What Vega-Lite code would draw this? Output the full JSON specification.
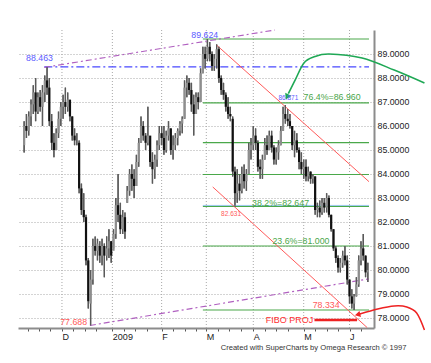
{
"$schema": "https://vega.github.io/schema/vega-lite/v6.json",
"width": 356, "height": 298,
"autosize": "none",
"padding": {"left": 18, "top": 30, "right": 57, "bottom": 35},
"background": "white",
"config": {"view": {"stroke": null}, "font": "Liberation Sans"},
"resolve": {"axis": {"x": "independent", "y": "independent"}},
"datasets": {
"ohlc": [
{"i":0,"o":85.2,"h":86.2,"l":84.9,"c":86.0},{"i":1,"o":86.0,"h":86.5,"l":85.5,"c":85.8},{"i":2,"o":85.8,"h":86.6,"l":85.6,"c":86.4},{"i":3,"o":86.4,"h":87.1,"l":86.0,"c":86.9},{"i":4,"o":86.9,"h":87.7,"l":86.5,"c":87.4},{"i":5,"o":87.4,"h":88.0,"l":86.2,"c":86.6},{"i":6,"o":86.6,"h":87.4,"l":86.5,"c":87.2},{"i":7,"o":87.2,"h":87.5,"l":86.6,"c":86.8},{"i":8,"o":86.8,"h":87.7,"l":86.0,"c":87.4},{"i":9,"o":87.4,"h":88.1,"l":87.0,"c":87.9},
{"i":10,"o":87.9,"h":88.463,"l":87.3,"c":87.6},{"i":11,"o":87.6,"h":88.0,"l":86.0,"c":86.2},{"i":12,"o":86.2,"h":86.5,"l":85.0,"c":85.3},{"i":13,"o":85.3,"h":85.7,"l":84.7,"c":85.0},{"i":14,"o":85.0,"h":85.9,"l":85.0,"c":85.7},{"i":15,"o":85.7,"h":86.6,"l":85.5,"c":86.3},{"i":16,"o":86.3,"h":87.0,"l":86.0,"c":86.8},{"i":17,"o":86.8,"h":87.3,"l":86.3,"c":87.0},{"i":18,"o":87.0,"h":87.6,"l":86.5,"c":86.8},{"i":19,"o":86.8,"h":87.4,"l":86.6,"c":87.1},
{"i":20,"o":87.1,"h":87.0,"l":86.2,"c":86.4},{"i":21,"o":86.4,"h":86.4,"l":85.4,"c":85.6},{"i":22,"o":85.6,"h":85.9,"l":85.2,"c":85.4},{"i":23,"o":85.4,"h":85.7,"l":85.2,"c":85.4},{"i":24,"o":85.3,"h":85.4,"l":83.2,"c":83.4},{"i":25,"o":83.4,"h":83.6,"l":82.3,"c":82.5},{"i":26,"o":82.5,"h":83.2,"l":82.0,"c":82.2},{"i":27,"o":82.2,"h":82.3,"l":80.2,"c":80.4},{"i":28,"o":80.4,"h":80.5,"l":78.4,"c":78.7},{"i":29,"o":78.6,"h":80.0,"l":77.688,"c":79.6},
{"i":30,"o":79.6,"h":81.3,"l":79.4,"c":81.0},{"i":31,"o":81.0,"h":81.4,"l":80.6,"c":80.8},{"i":32,"o":80.8,"h":81.3,"l":80.4,"c":81.1},{"i":33,"o":81.0,"h":81.2,"l":80.3,"c":80.6},{"i":34,"o":80.6,"h":81.3,"l":80.2,"c":81.0},{"i":35,"o":81.0,"h":81.1,"l":79.7,"c":80.6},{"i":36,"o":80.6,"h":81.4,"l":80.4,"c":80.9},{"i":37,"o":80.9,"h":81.7,"l":80.5,"c":81.2},{"i":38,"o":81.2,"h":81.2,"l":80.3,"c":80.6},{"i":39,"o":80.8,"h":81.7,"l":80.9,"c":81.5},
{"i":40,"o":81.5,"h":83.0,"l":81.3,"c":82.7},{"i":41,"o":82.7,"h":84.0,"l":82.0,"c":82.3},{"i":42,"o":82.3,"h":82.8,"l":81.5,"c":81.7},{"i":43,"o":81.7,"h":82.5,"l":81.5,"c":82.2},{"i":44,"o":82.2,"h":82.4,"l":81.3,"c":81.6},{"i":45,"o":82.8,"h":83.5,"l":82.8,"c":83.3},{"i":46,"o":83.3,"h":84.2,"l":83.1,"c":84.0},{"i":47,"o":84.0,"h":84.4,"l":83.3,"c":83.8},{"i":48,"o":83.8,"h":84.2,"l":83.0,"c":83.5},{"i":49,"o":83.5,"h":84.8,"l":83.5,"c":84.5},
{"i":50,"o":84.5,"h":85.5,"l":84.3,"c":85.3},{"i":51,"o":85.3,"h":86.4,"l":85.3,"c":86.0},{"i":52,"o":86.0,"h":86.2,"l":85.4,"c":85.6},{"i":53,"o":85.6,"h":85.7,"l":85.0,"c":85.3},{"i":54,"o":85.3,"h":86.8,"l":85.2,"c":85.6},{"i":55,"o":85.6,"h":85.4,"l":84.3,"c":84.5},{"i":56,"o":84.5,"h":84.9,"l":83.6,"c":84.2},{"i":57,"o":84.2,"h":84.8,"l":83.8,"c":84.6},{"i":58,"o":84.6,"h":85.4,"l":84.3,"c":85.2},{"i":59,"o":85.2,"h":86.0,"l":85.0,"c":85.7},
{"i":60,"o":85.7,"h":86.0,"l":85.2,"c":85.5},{"i":61,"o":85.5,"h":86.0,"l":84.8,"c":85.0},{"i":62,"o":85.0,"h":85.8,"l":84.9,"c":85.6},{"i":63,"o":85.6,"h":86.2,"l":85.4,"c":85.9},{"i":64,"o":85.9,"h":85.9,"l":84.8,"c":85.0},{"i":65,"o":85.0,"h":85.6,"l":84.6,"c":85.2},{"i":66,"o":85.2,"h":85.7,"l":85.0,"c":85.5},{"i":67,"o":85.5,"h":85.9,"l":85.2,"c":85.8},{"i":68,"o":85.8,"h":86.2,"l":85.6,"c":86.1},{"i":69,"o":86.1,"h":86.4,"l":85.7,"c":86.3},
{"i":70,"o":86.3,"h":87.9,"l":86.3,"c":87.6},{"i":71,"o":87.6,"h":88.1,"l":87.2,"c":87.8},{"i":72,"o":87.8,"h":88.0,"l":87.3,"c":87.5},{"i":73,"o":87.5,"h":87.8,"l":86.6,"c":86.9},{"i":74,"o":86.9,"h":87.3,"l":85.6,"c":86.5},{"i":75,"o":86.5,"h":87.4,"l":86.6,"c":87.2},{"i":76,"o":87.2,"h":87.4,"l":86.7,"c":87.0},{"i":77,"o":87.0,"h":88.4,"l":87.0,"c":88.2},{"i":78,"o":88.2,"h":89.3,"l":88.2,"c":89.0},{"i":79,"o":89.0,"h":89.3,"l":88.4,"c":88.8},
{"i":80,"o":88.8,"h":89.624,"l":88.7,"c":89.3},{"i":81,"o":89.3,"h":89.5,"l":88.7,"c":89.0},{"i":82,"o":89.0,"h":89.1,"l":88.3,"c":88.5},{"i":83,"o":88.5,"h":89.0,"l":88.3,"c":88.8},{"i":84,"o":88.8,"h":89.4,"l":88.4,"c":89.2},{"i":85,"o":89.2,"h":89.3,"l":87.8,"c":88.0},{"i":86,"o":88.0,"h":88.1,"l":87.3,"c":87.5},{"i":87,"o":87.5,"h":87.8,"l":87.1,"c":87.3},{"i":88,"o":87.3,"h":87.4,"l":86.6,"c":86.8},{"i":89,"o":86.8,"h":87.2,"l":86.3,"c":86.5},
{"i":90,"o":86.5,"h":86.8,"l":86.2,"c":86.4},{"i":91,"o":86.3,"h":86.4,"l":83.9,"c":84.1},{"i":92,"o":84.1,"h":84.3,"l":82.631,"c":83.2},{"i":93,"o":83.2,"h":84.2,"l":82.8,"c":83.6},{"i":94,"o":83.6,"h":84.0,"l":82.9,"c":83.3},{"i":95,"o":83.3,"h":84.3,"l":83.2,"c":84.0},{"i":96,"o":84.0,"h":84.4,"l":83.4,"c":83.7},{"i":97,"o":83.7,"h":84.2,"l":83.3,"c":84.0},{"i":98,"o":84.0,"h":85.3,"l":84.0,"c":85.0},{"i":99,"o":85.0,"h":85.5,"l":84.6,"c":85.2},
{"i":100,"o":85.2,"h":86.0,"l":85.0,"c":85.6},{"i":101,"o":85.6,"h":85.9,"l":85.0,"c":85.3},{"i":102,"o":85.3,"h":85.4,"l":84.1,"c":84.3},{"i":103,"o":84.3,"h":84.6,"l":83.8,"c":84.2},{"i":104,"o":84.2,"h":84.8,"l":83.8,"c":84.6},{"i":105,"o":84.6,"h":85.5,"l":84.6,"c":85.2},{"i":106,"o":85.2,"h":85.6,"l":84.8,"c":85.0},{"i":107,"o":85.0,"h":85.8,"l":85.0,"c":85.6},{"i":108,"o":85.6,"h":85.8,"l":84.9,"c":85.1},{"i":109,"o":85.1,"h":85.2,"l":84.4,"c":84.6},
{"i":110,"o":84.6,"h":85.1,"l":84.4,"c":84.9},{"i":111,"o":84.9,"h":85.4,"l":84.6,"c":85.2},{"i":112,"o":85.2,"h":86.0,"l":85.2,"c":85.8},{"i":113,"o":85.8,"h":86.8,"l":85.8,"c":86.5},{"i":114,"o":86.5,"h":86.871,"l":86.1,"c":86.3},{"i":115,"o":86.3,"h":86.7,"l":86.0,"c":86.2},{"i":116,"o":86.2,"h":86.5,"l":85.9,"c":86.0},{"i":117,"o":86.0,"h":86.0,"l":85.0,"c":85.2},{"i":118,"o":85.2,"h":85.8,"l":84.7,"c":85.4},{"i":119,"o":85.4,"h":85.7,"l":84.9,"c":85.0},
{"i":120,"o":85.0,"h":85.1,"l":84.2,"c":84.5},{"i":121,"o":84.5,"h":84.9,"l":84.0,"c":84.2},{"i":122,"o":84.2,"h":84.6,"l":83.8,"c":84.3},{"i":123,"o":84.3,"h":84.6,"l":83.7,"c":83.9},{"i":124,"o":83.9,"h":84.3,"l":83.7,"c":84.1},{"i":125,"o":84.1,"h":84.1,"l":83.6,"c":83.8},{"i":126,"o":83.8,"h":84.0,"l":83.6,"c":83.9},{"i":127,"o":83.9,"h":83.9,"l":82.3,"c":82.5},{"i":128,"o":82.5,"h":82.8,"l":82.2,"c":82.6},{"i":129,"o":82.6,"h":82.9,"l":82.2,"c":82.4},
{"i":130,"o":82.4,"h":83.0,"l":82.3,"c":82.8},{"i":131,"o":82.8,"h":83.0,"l":82.4,"c":82.6},{"i":132,"o":82.6,"h":83.2,"l":82.4,"c":83.0},{"i":133,"o":83.0,"h":83.1,"l":82.2,"c":82.3},{"i":134,"o":82.3,"h":82.3,"l":81.6,"c":81.7},{"i":135,"o":81.7,"h":81.7,"l":80.8,"c":80.9},{"i":136,"o":80.9,"h":81.0,"l":80.3,"c":80.5},{"i":137,"o":80.5,"h":80.6,"l":79.9,"c":80.1},{"i":138,"o":80.1,"h":80.5,"l":79.9,"c":80.3},{"i":139,"o":80.3,"h":80.8,"l":80.1,"c":80.6},
{"i":140,"o":80.6,"h":81.0,"l":80.2,"c":80.4},{"i":141,"o":80.4,"h":80.6,"l":79.4,"c":79.6},{"i":142,"o":79.6,"h":79.6,"l":78.6,"c":78.9},{"i":143,"o":78.9,"h":79.2,"l":78.4,"c":78.6},{"i":144,"o":78.6,"h":79.0,"l":78.334,"c":78.9},{"i":145,"o":78.9,"h":79.7,"l":78.9,"c":79.4},{"i":146,"o":79.4,"h":80.6,"l":79.3,"c":80.4},{"i":147,"o":80.4,"h":81.2,"l":80.2,"c":80.9},{"i":148,"o":80.9,"h":81.5,"l":80.4,"c":80.6},{"i":149,"o":80.6,"h":80.6,"l":79.7,"c":79.9},
{"i":150,"o":79.9,"h":80.3,"l":79.5,"c":80.0}
],
"months": [{"m":16.5},{"m":38.5},{"m":60},{"m":79.5},{"m":100},{"m":122},{"m":142}],
"fib": [{"y":89.624},{"y":86.96},{"y":85.311},{"y":83.979},{"y":82.647},{"y":81.0},{"y":78.334}],
"purple": [{"g":"top","x":8.8,"y":88.44},{"g":"top","x":109.4,"y":90.0},{"g":"bot","x":28.7,"y":77.688},{"g":"bot","x":150.5,"y":79.63}],
"red": [{"g":"up","x":84,"y":89.37},{"g":"up","x":150.5,"y":83.68},{"g":"lo","x":82.3,"y":83.46},{"g":"lo","x":149.7,"y":77.6}],
"gcurve": [{"k":0,"x":174.7,"y":87.79},{"k":1,"x":161.5,"y":88.33},{"k":2,"x":147.5,"y":88.83},{"k":3,"x":133.1,"y":89.0},{"k":4,"x":126.3,"y":88.875},{"k":5,"x":122.1,"y":88.625},{"k":6,"x":118.3,"y":87.92},{"k":7,"x":115.3,"y":87.35}],
"rcurve": [{"k":0,"x":174.7,"y":77.5},{"k":1,"x":171.3,"y":78.21},{"k":2,"x":167.0,"y":78.46},{"k":3,"x":161.5,"y":78.5},{"k":4,"x":154.3,"y":78.375},{"k":5,"x":146.5,"y":78.17}]
},
"layer": [
{"data": {"name": "ohlc"},
 "mark": {"type": "rule", "color": "#5a5a5a", "strokeWidth": 1.3},
 "encoding": {"x": {"field": "i", "type": "quantitative", "scale": {"domain": [-0.5, 150.5], "nice": false, "zero": false},
     "axis": {"title": null, "values": [1.5, 6.5, 11.5, 16.5, 21.5, 26.5, 31.5, 38.5, 43.5, 48.5, 53.5, 60, 65, 70, 75, 79.5, 84.5, 89.5, 94.5, 100, 105, 110, 115, 122, 127, 132, 137, 142, 147],
       "labelExpr": "datum.value == 16.5 ? 'D' : datum.value == 38.5 ? '2009' : datum.value == 60 ? 'F' : datum.value == 79.5 ? 'M' : datum.value == 100 ? 'A' : datum.value == 122 ? 'M' : datum.value == 142 ? 'J' : ''",
       "grid": false, "domainColor": "#8c8c8c", "domainWidth": 2, "tickColor": "#555555", "tickSize": 3, "labelAlign": "left", "labelOverlap": false, "labelFlush": false, "labelFontSize": 9, "labelColor": "#222222", "labelPadding": 1}},
   "y": {"field": "l", "type": "quantitative", "scale": {"domain": [77.583, 90.0], "nice": false, "zero": false},
     "axis": {"orient": "right", "title": null, "values": [78, 79, 80, 81, 82, 83, 84, 85, 86, 87, 88, 89], "format": ".4f", "grid": true, "gridColor": "#a8a8a8", "gridDash": [1, 2], "domainColor": "#8c8c8c", "domainWidth": 2, "tickSize": 0, "labelOverlap": false, "labelFontSize": 8.8, "labelColor": "#222222", "labelPadding": 3}},
   "y2": {"field": "h"}}},
{"data": {"name": "months"},
 "mark": {"type": "rule", "color": "#a8a8a8", "strokeDash": [1, 2], "strokeWidth": 1},
 "encoding": {"x": {"field": "m", "type": "quantitative", "axis": null}}},
{"data": {"name": "fib"},
 "mark": {"type": "rule", "color": "#4aa84a", "strokeWidth": 1.2},
 "encoding": {"y": {"field": "y", "type": "quantitative", "axis": null},
   "x": {"datum": 78, "type": "quantitative", "axis": null},
   "x2": {"datum": 150.5}}},
{"data": {"values": [{"y": 82.69}]},
 "mark": {"type": "rule", "color": "#9cc8f0", "strokeWidth": 1},
 "encoding": {"y": {"field": "y", "type": "quantitative", "axis": null},
   "x": {"datum": 78, "type": "quantitative", "axis": null}, "x2": {"datum": 150.5}}},
{"data": {"values": [{"y": 88.463}]},
 "mark": {"type": "rule", "color": "#4848ff", "strokeWidth": 1.2, "strokeDash": [8, 3, 2, 3]},
 "encoding": {"y": {"field": "y", "type": "quantitative", "axis": null},
   "x": {"datum": 8.8, "type": "quantitative", "axis": null}, "x2": {"datum": 150.5}}},
{"data": {"name": "purple"},
 "mark": {"type": "line", "color": "#b060c0", "strokeWidth": 1.2, "strokeDash": [6, 3, 2, 3]},
 "encoding": {"x": {"field": "x", "type": "quantitative", "axis": null}, "y": {"field": "y", "type": "quantitative", "axis": null}, "detail": {"field": "g"}}},
{"data": {"name": "red"},
 "mark": {"type": "line", "color": "#ff5a5a", "strokeWidth": 1},
 "encoding": {"x": {"field": "x", "type": "quantitative", "axis": null}, "y": {"field": "y", "type": "quantitative", "axis": null}, "detail": {"field": "g"}}},
{"data": {"name": "ohlc"},
 "mark": {"type": "rule", "color": "#5a5a5a", "strokeWidth": 1.3},
 "encoding": {"x": {"field": "i", "type": "quantitative", "axis": null},
   "y": {"field": "l", "type": "quantitative", "axis": null},
   "y2": {"field": "h"}}},
{"data": {"name": "ohlc"},
 "mark": {"type": "bar", "size": 2.2},
 "encoding": {"x": {"field": "i", "type": "quantitative", "axis": null},
   "y": {"field": "o", "type": "quantitative", "axis": null}, "y2": {"field": "c"},
   "color": {"condition": {"test": "datum.c < datum.o", "value": "#111111"}, "value": "#8e8e8e"}}},
{"data": {"name": "gcurve"},
 "mark": {"type": "line", "color": "#1fa855", "strokeWidth": 1.6, "interpolate": "cardinal", "clip": false},
 "encoding": {"x": {"field": "x", "type": "quantitative", "axis": null}, "y": {"field": "y", "type": "quantitative", "axis": null}, "order": {"field": "k"}}},
{"data": {"values": [{"x": 114.9, "y": 87.25}]},
 "mark": {"type": "point", "shape": "triangle", "filled": true, "color": "#1fa855", "size": 45, "angle": 205, "opacity": 1},
 "encoding": {"x": {"field": "x", "type": "quantitative", "axis": null}, "y": {"field": "y", "type": "quantitative", "axis": null}}},
{"data": {"name": "rcurve"},
 "mark": {"type": "line", "color": "#ee2222", "strokeWidth": 1.5, "interpolate": "cardinal", "clip": false},
 "encoding": {"x": {"field": "x", "type": "quantitative", "axis": null}, "y": {"field": "y", "type": "quantitative", "axis": null}, "order": {"field": "k"}}},
{"data": {"values": [{"x": 145.9, "y": 78.15}]},
 "mark": {"type": "point", "shape": "triangle", "filled": true, "color": "#ee2222", "size": 40, "angle": 256, "opacity": 1},
 "encoding": {"x": {"field": "x", "type": "quantitative", "axis": null}, "y": {"field": "y", "type": "quantitative", "axis": null}}},
{"data": {"values": [{"y": 77.92}]},
 "mark": {"type": "rule", "color": "#ee2222", "strokeWidth": 2.5},
 "encoding": {"y": {"field": "y", "type": "quantitative", "axis": null},
   "x": {"datum": 126.7, "type": "quantitative", "axis": null}, "x2": {"datum": 145.3}}},
{"data": {"values": [{"t": "88.463", "x": 6.7, "y": 88.83}, {"t": "89.624", "x": 78.8, "y": 89.79}]},
 "mark": {"type": "text", "color": "#5a5aff", "fontSize": 8.8},
 "encoding": {"x": {"field": "x", "type": "quantitative", "axis": null}, "y": {"field": "y", "type": "quantitative", "axis": null}, "text": {"field": "t"}}},
{"data": {"values": [{"t": "86.871", "x": 115.3, "y": 87.17}]},
 "mark": {"type": "text", "color": "#5a5aff", "fontSize": 6.5},
 "encoding": {"x": {"field": "x", "type": "quantitative", "axis": null}, "y": {"field": "y", "type": "quantitative", "axis": null}, "text": {"field": "t"}}},
{"data": {"values": [{"t": "77.688", "x": 21.6, "y": 77.83}, {"t": "78.334", "x": 131.8, "y": 78.54}]},
 "mark": {"type": "text", "color": "#ff5a5a", "fontSize": 8.8},
 "encoding": {"x": {"field": "x", "type": "quantitative", "axis": null}, "y": {"field": "y", "type": "quantitative", "axis": null}, "text": {"field": "t"}}},
{"data": {"values": [{"t": "82.631", "x": 90.3, "y": 82.33}]},
 "mark": {"type": "text", "color": "#ff5a5a", "fontSize": 6.5},
 "encoding": {"x": {"field": "x", "type": "quantitative", "axis": null}, "y": {"field": "y", "type": "quantitative", "axis": null}, "text": {"field": "t"}}},
{"data": {"values": [{"t": "76.4%=86.960", "x": 134.4, "y": 87.21}, {"t": "38.2%=82.647", "x": 111.9, "y": 82.79}, {"t": "23.6%=81.000", "x": 120.8, "y": 81.21}]},
 "mark": {"type": "text", "color": "#4aa64a", "fontSize": 8.8},
 "encoding": {"x": {"field": "x", "type": "quantitative", "axis": null}, "y": {"field": "y", "type": "quantitative", "axis": null}, "text": {"field": "t"}}},
{"data": {"values": [{"t": "FIBO PROJ", "x": 115.8, "y": 77.92}]},
 "mark": {"type": "text", "color": "#ff3030", "fontSize": 9},
 "encoding": {"x": {"field": "x", "type": "quantitative", "axis": null}, "y": {"field": "y", "type": "quantitative", "axis": null}, "text": {"field": "t"}}},
{"data": {"values": [{"t": "Created with SuperCharts by Omega Research © 1997", "x": 126.3, "y": 76.76}]},
 "mark": {"type": "text", "color": "#333333", "fontSize": 7.6},
 "encoding": {"x": {"field": "x", "type": "quantitative", "axis": null}, "y": {"field": "y", "type": "quantitative", "axis": null}, "text": {"field": "t"}}}
]
}
